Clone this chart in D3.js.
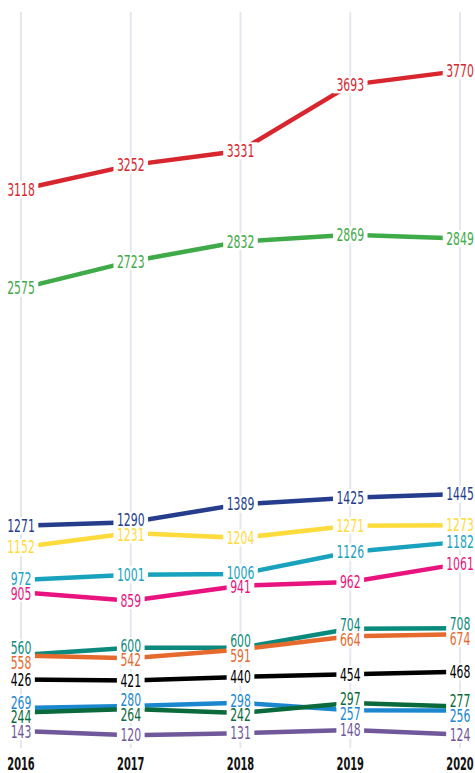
<!DOCTYPE html>
<html>
<head>
<meta charset="utf-8">
<script src="https://cdn.jsdelivr.net/npm/d3@7"></script>
<style>
  html, body { margin: 0; padding: 0; background: #fff; }
  svg { display: block; }
</style>
</head>
<body>
<svg id="chart" width="475" height="773"></svg>
<script>
// ---- data ----
const years = ["2016", "2017", "2018", "2019", "2020"];
const seriesA = [3118, 3252, 3331, 3693, 3770];
const seriesB = [2575, 2723, 2832, 2869, 2849];
const seriesC = [1271, 1290, 1389, 1425, 1445];
const seriesD = [1152, 1231, 1204, 1271, 1273];
const seriesE = [972, 1001, 1006, 1126, 1182];
const seriesF = [905, 859, 941, 962, 1061];
const seriesG = [560, 600, 600, 704, 708];
const seriesH = [558, 542, 591, 664, 674];
const seriesI = [426, 421, 440, 454, 468];
const seriesJ = [269, 280, 298, 257, 256];
const seriesK = [244, 264, 242, 297, 277];
const seriesL = [143, 120, 131, 148, 124];

const allSeries = [seriesA, seriesB, seriesC, seriesD, seriesE, seriesF, seriesG, seriesH, seriesI, seriesJ, seriesK, seriesL];
const colors = ["#d7262e", "#3faa48", "#263d8d", "#fedb3c", "#19a2bd", "#e8137e", "#0a8a7c", "#e6692d", "#000000", "#1b87cf", "#0a6a3b", "#70589a"];

// ---- layout ----
const svg = d3.select("#chart");
const x = d3.scalePoint().domain(years).range([21, 460]);
const y = d3.scaleLinear().domain([0, 4000]).range([757, 29]);

const font = "'Liberation Sans Narrow', 'DejaVu Sans Condensed', 'Arial Narrow', sans-serif";

// gridlines
svg.append("g").selectAll("line").data(years).join("line")
  .attr("x1", d => x(d)).attr("x2", d => x(d))
  .attr("y1", 12).attr("y2", 748)
  .attr("stroke", "#e4e7ee").attr("stroke-width", 2);

// lines
const line = d3.line().x((d, i) => x(years[i])).y(d => y(d));
svg.append("g").selectAll("path").data(allSeries).join("path")
  .attr("d", d => line(d))
  .attr("fill", "none")
  .attr("stroke", (d, i) => colors[i])
  .attr("stroke-width", 4.5);

// labels with dodge
const labels = [];
allSeries.forEach((s, si) => {
  s.forEach((v, yi) => {
    labels.push({ v, si, yi, x: x(years[yi]), ty: y(v), y: y(v) });
  });
});
const minGap = 14.5;
years.forEach((yr, yi) => {
  const col = labels.filter(l => l.yi === yi).sort((a, b) => a.ty - b.ty);
  for (let it = 0; it < 100; it++) {
    let moved = false;
    for (let k = 1; k < col.length; k++) {
      const gap = col[k].y - col[k - 1].y;
      if (gap < minGap) {
        const push = (minGap - gap) / 2;
        col[k - 1].y -= push; col[k].y += push; moved = true;
      }
    }
    if (!moved) break;
  }
});

const digitW = 6.9;
const lg = svg.append("g");
const rectLayer = lg.append("g");
const textLayer = lg.append("g");
const texts = textLayer.selectAll("g").data(labels).join("g");
texts.append("text")
  .attr("text-anchor", "middle")
  .attr("dy", "0.36em")
  .attr("font-family", font)
  .attr("font-size", 17)
  .attr("fill", d => colors[d.si])
  .text(d => d.v);

texts.each(function (d) {
  const t = this.querySelector("text");
  const bb = t.getBBox();
  const target = String(d.v).length * digitW;
  const sx = target / bb.width;
  d3.select(this).attr("transform", `translate(${d.x},${d.y}) scale(${sx},1)`);
  const w = target + 7;
  rectLayer.append("rect")
    .attr("x", d.x - w / 2).attr("y", d.y - 8.5)
    .attr("width", w).attr("height", 17)
    .attr("fill", "#fff");
});

// year axis labels
const yl = svg.append("g").selectAll("g").data(years).join("g");
yl.append("text")
  .attr("text-anchor", "middle")
  .attr("dy", "0.36em")
  .attr("font-family", font)
  .attr("font-weight", "bold")
  .attr("font-size", 18)
  .attr("fill", "#111")
  .text(d => d);
yl.each(function (d) {
  const bb = this.querySelector("text").getBBox();
  const sx = 27.5 / bb.width;
  d3.select(this).attr("transform", `translate(${x(d)},764) scale(${sx},1)`);
});
</script>
</body>
</html>
